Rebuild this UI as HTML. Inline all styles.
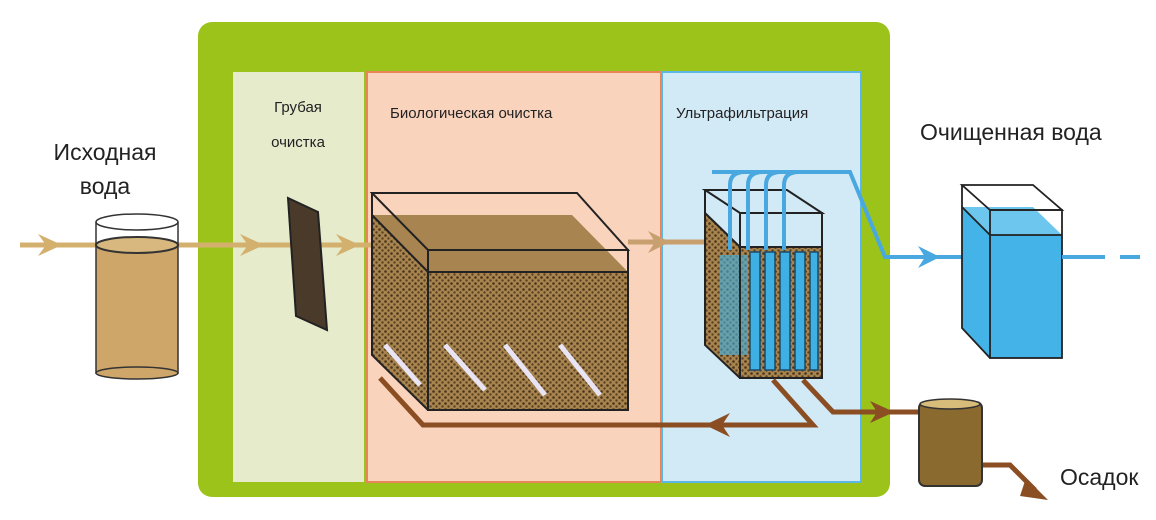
<!DOCTYPE html>
<html><head><meta charset="utf-8"><style>
body{margin:0;background:#fff;}
svg{display:block;font-family:"Liberation Sans",sans-serif;}
</style></head><body>
<svg width="1156" height="520" viewBox="0 0 1156 520">
<defs>
<pattern id="dots" width="6" height="6" patternUnits="userSpaceOnUse">
<rect width="6" height="6" fill="#a8844e"/>
<circle cx="1.5" cy="1.5" r="1.3" fill="#4a3418"/><circle cx="4.5" cy="4.5" r="1.2" fill="#5a4224"/>
</pattern>
</defs>
<rect x="198" y="22" width="692" height="475" rx="14" fill="#9bc31a"/>
<rect x="233" y="72" width="131" height="410" fill="#e6ebcc"/>
<rect x="367" y="72" width="294" height="410" fill="#fad3bd" stroke="#e8845a" stroke-width="2"/>
<rect x="662" y="72" width="199" height="410" fill="#d2e9f6" stroke="#5bb8e6" stroke-width="2"/>
<text x="298" y="112" font-size="15" text-anchor="middle" fill="#222">Грубая</text>
<text x="298" y="147" font-size="15" text-anchor="middle" fill="#222">очистка</text>
<text x="390" y="118" font-size="15" fill="#222">Биологическая очистка</text>
<text x="676" y="118" font-size="15" fill="#222">Ультрафильтрация</text>
<text x="105" y="160" font-size="23" text-anchor="middle" fill="#222">Исходная</text>
<text x="105" y="194" font-size="23" text-anchor="middle" fill="#222">вода</text>
<text x="920" y="140" font-size="23" fill="#222">Очищенная вода</text>
<text x="1060" y="485" font-size="23" fill="#222">Осадок</text>
<line x1="20" y1="245" x2="372" y2="245" stroke="#d4b06e" stroke-width="5"/>
<g fill="#d4b06e"><path d="M38 234 L62 245 L38 256 L46 245Z"/><path d="M240 234 L264 245 L240 256 L248 245Z"/><path d="M336 234 L360 245 L336 256 L344 245Z"/></g>
<rect x="96" y="245" width="82" height="128" fill="#cfa66a" stroke="#333" stroke-width="1.5"/>
<ellipse cx="137" cy="373" rx="41" ry="6" fill="#cfa66a" stroke="#333" stroke-width="1.5"/>
<line x1="96" y1="222" x2="96" y2="245" stroke="#333" stroke-width="1.5"/><line x1="178" y1="222" x2="178" y2="245" stroke="#333" stroke-width="1.5"/>
<ellipse cx="137" cy="222" rx="41" ry="8" fill="none" stroke="#333" stroke-width="1.5"/>
<ellipse cx="137" cy="245" rx="41" ry="8" fill="#d8b87e" stroke="#333" stroke-width="2"/>
<path d="M288 198 L318 212 L327 330 L296 316Z" fill="#4a3a2a" stroke="#222" stroke-width="2"/>
<path d="M372 215 L428 272 L628 272 L628 410 L428 410 L372 355Z" fill="url(#dots)"/>
<path d="M372 215 L428 272 L628 272 L572 215Z" fill="#a88450"/>
<g stroke="#e8e4f4" stroke-width="5"><line x1="385" y1="345" x2="420" y2="385"/><line x1="445" y1="345" x2="485" y2="390"/><line x1="505" y1="345" x2="545" y2="395"/><line x1="560" y1="345" x2="600" y2="395"/></g>
<g fill="none" stroke="#222" stroke-width="2"><path d="M372 193 L577 193 L628 250 L428 250 Z"/><rect x="428" y="250" width="200" height="160"/><path d="M372 193 L372 355 L428 410"/><path d="M372 215 L428 272 L628 272"/></g>
<line x1="628" y1="242" x2="710" y2="242" stroke="#c8a070" stroke-width="5"/>
<path d="M648 231 L670 242 L648 253 L655 242Z" fill="#c8a070"/>
<path d="M705 213 L740 247 L822 247 L822 378 L740 378 L705 345Z" fill="url(#dots)"/>
<g fill="#3fb0e4" stroke="#1a4a6a" stroke-width="1.5"><rect x="750" y="252" width="10" height="118"/><rect x="765" y="252" width="10" height="118"/><rect x="780" y="252" width="10" height="118"/><rect x="795" y="252" width="10" height="118"/><rect x="810" y="252" width="8" height="118"/></g>
<rect x="720" y="255" width="28" height="100" fill="#3fb0e4" opacity="0.6"/>
<g fill="none" stroke="#222" stroke-width="2"><path d="M705 190 L787 190 L822 213 L740 213 Z"/><rect x="740" y="213" width="82" height="165"/><path d="M705 190 L705 345 L740 378"/><path d="M705 213 L740 247 L822 247"/></g>
<g fill="none" stroke="#4aa8e0" stroke-width="4"><path d="M730 250 L730 185 Q730 172 745 172"/><path d="M748 250 L748 185 Q748 172 763 172"/><path d="M766 250 L766 185 Q766 172 781 172"/><path d="M784 250 L784 185 Q784 172 799 172"/><path d="M712 172 L850 172 L885 257 L962 257"/></g>
<path d="M918 246 L940 257 L918 268 L925 257Z" fill="#4aa8e0"/>
<path d="M962 207 L990 235 L1062 235 L1062 358 L990 358 L962 328Z" fill="#44b4e8"/>
<path d="M962 207 L990 235 L1062 235 L1033 207Z" fill="#6cc6ee"/>
<g fill="none" stroke="#222" stroke-width="1.8"><path d="M962 185 L1033 185 L1062 210 L990 210Z"/><rect x="990" y="210" width="72" height="148"/><path d="M962 185 L962 328 L990 358"/><path d="M962 207 L990 235 L1062 235"/></g>
<line x1="1062" y1="257" x2="1105" y2="257" stroke="#4aa8e0" stroke-width="4"/>
<line x1="1120" y1="257" x2="1140" y2="257" stroke="#4aa8e0" stroke-width="4"/>
<g fill="none" stroke="#8a4e22" stroke-width="5"><path d="M380 378 L423 425 L813 425 L773 380"/><path d="M803 380 L833 412 L920 412"/><path d="M982 465 L1010 465 L1035 490"/></g>
<path d="M730 413 L705 425 L730 437 L722 425Z" fill="#8a4e22"/>
<path d="M870 401 L894 412 L870 423 L877 412Z" fill="#8a4e22"/>
<path d="M1026 478 L1048 500 L1020 496Z" fill="#8a4e22"/>
<rect x="919" y="402" width="63" height="84" rx="6" fill="#8b6a30" stroke="#333" stroke-width="2"/>
<ellipse cx="950" cy="404" rx="30" ry="5" fill="#d8bc7a" stroke="#333" stroke-width="1.5"/>
</svg>
</body></html>
